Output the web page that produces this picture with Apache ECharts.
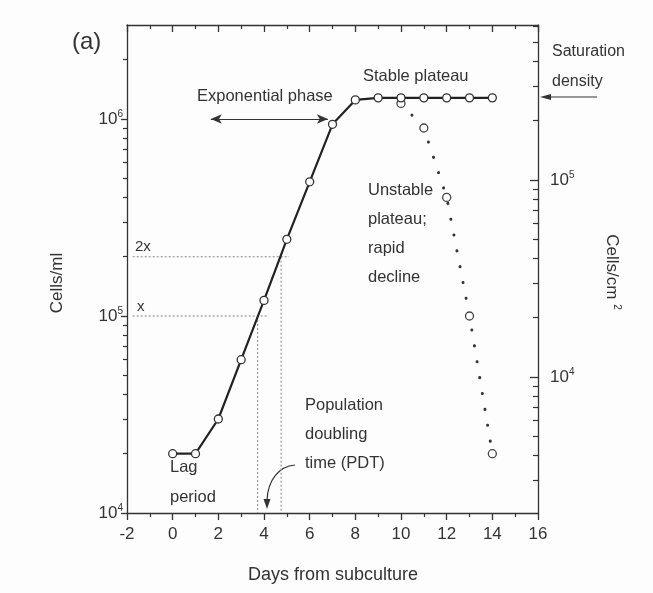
<!DOCTYPE html>
<html><head><meta charset="utf-8">
<script src="https://cdn.jsdelivr.net/npm/echarts@6/dist/echarts.min.js"></script>
<style>html,body{margin:0;padding:0;background:#fdfdfd}#c{width:653px;height:593px}</style>
</head><body><div id="c"></div>
<script>
// ---- data ----
const growthDays  = [0, 1, 2, 3, 4, 5, 6, 7, 8, 9, 10, 11, 12, 13, 14];
const growthCells = [2e4, 2e4, 3e4, 6e4, 1.2e5, 2.45e5, 4.8e5, 9.4e5, 1.25e6, 1.28e6, 1.28e6, 1.28e6, 1.28e6, 1.28e6, 1.28e6];
const declineDays  = [10, 11, 12, 13, 14];
const declineCells = [1.2e6, 9.0e5, 4.0e5, 1.0e5, 2.0e4];

// x axis
const xMin = -2, xMax = 16, xStep = 2;
// left axis (cells/ml)
const leftMin = 1e4, leftMax = 3e6;
const leftMajor = [1e4, 1e5, 1e6];
const leftMajorExp = ['4', '5', '6'];
const leftMinor = [2e4,3e4,4e4,5e4,6e4,7e4,8e4,9e4,2e5,3e5,4e5,5e5,6e5,7e5,8e5,9e5,2e6];
// right axis (cells/cm2) = cells/ml / mlPerCm2
const mlPerCm2 = 4.9;
const rightMajor = [1e4, 1e5];
const rightMajorExp = ['4', '5'];
const rightMinor = [3e3,4e3,5e3,6e3,7e3,8e3,9e3,2e4,3e4,4e4,5e4,6e4,7e4,8e4,9e4,2e5,3e5,4e5,5e5,6e5];

// doubling-time guides
const twoXLevel = 2e5, oneXLevel = 1e5;
const guideStartDay = -1.75;
const twoXEndDay = 5.1, oneXEndDay = 4.15;
const twoXDay = 4.75, oneXDay = 3.72;
// exponential phase arrow
const expArrowDays = [1.67, 6.8];
const expArrowLevel = 1e6;

const FONT = 'Liberation Sans';
const TXT = '#333';

function pairs(xs, ys){ return xs.map((x,i)=>[x, ys[i]]); }
function supLabel(vals, exps){
  return function(v){
    let idx = -1;
    vals.forEach((t,i)=>{ if (Math.abs(t - v)/t < 1e-6) idx = i; });
    return idx < 0 ? '' : '{b|10}{s|' + exps[idx] + '}';
  };
}
const supRich = {
  b: {fontFamily: FONT, fontSize: 17, color: TXT},
  s: {fontFamily: FONT, fontSize: 10, color: TXT, padding: [0, 0, 10, 0]}
};

const chart = echarts.init(document.getElementById('c'), null, {renderer: 'canvas'});
const axisLine = {show: true, onZero: false, lineStyle: {color: '#333', width: 1.3}};
const noLine = {show: false, onZero: false};

const option = {
  backgroundColor: '#fdfdfd',
  animation: false,
  grid: {left: 127, top: 25, right: 115, bottom: 80, containLabel: false},
  xAxis: [
    {type: 'value', min: xMin, max: xMax, interval: xStep, position: 'bottom',
     axisLine: axisLine, splitLine: {show: false},
     axisTick: {show: true, length: 7, lineStyle: {color: '#333', width: 1.3}},
     minorTick: {show: true, splitNumber: 2, length: 4, lineStyle: {color: '#333', width: 1.2}},
     axisLabel: {fontFamily: FONT, fontSize: 17, color: TXT, margin: 13}},
    {type: 'value', min: xMin, max: xMax, interval: xStep, position: 'top',
     axisLine: axisLine, splitLine: {show: false},
     axisTick: {show: true, inside: true, length: 7, lineStyle: {color: '#333', width: 1.3}},
     minorTick: {show: true, splitNumber: 2, length: 4, lineStyle: {color: '#333', width: 1.2}},
     axisLabel: {show: false}}
  ],
  yAxis: [
    {type: 'log', logBase: 10, min: leftMin, max: leftMax, position: 'left',
     axisLine: axisLine, splitLine: {show: false}, minorTick: {show: false},
     axisTick: {show: true, length: 6, customValues: leftMajor, lineStyle: {color: '#333', width: 1.3}},
     axisLabel: {customValues: leftMajor, formatter: supLabel(leftMajor, leftMajorExp), rich: supRich, margin: 4}},
    {type: 'log', logBase: 10, min: leftMin, max: leftMax, position: 'left',
     axisLine: noLine, splitLine: {show: false},
     axisTick: {show: true, length: 4, customValues: leftMinor, lineStyle: {color: '#333', width: 1.2}},
     axisLabel: {show: false}},
    {type: 'log', logBase: 10, min: leftMin / mlPerCm2, max: leftMax / mlPerCm2, position: 'right',
     axisLine: axisLine, splitLine: {show: false},
     axisTick: {show: true, inside: true, length: 8, customValues: rightMajor, lineStyle: {color: '#333', width: 1.3}},
     axisLabel: {customValues: rightMajor, formatter: supLabel(rightMajor, rightMajorExp), rich: supRich, margin: 12}},
    {type: 'log', logBase: 10, min: leftMin / mlPerCm2, max: leftMax / mlPerCm2, position: 'right',
     axisLine: noLine, splitLine: {show: false},
     axisTick: {show: true, inside: true, length: 5, customValues: rightMinor, lineStyle: {color: '#333', width: 1.2}},
     axisLabel: {show: false}}
  ],
  series: [
    {type: 'line', name: '2x', symbol: 'none', silent: true,
     data: [[guideStartDay, twoXLevel], [twoXEndDay, twoXLevel]],
     lineStyle: {color: '#999', width: 1.2, type: [2, 2]}, z: 1},
    {type: 'line', name: 'x', symbol: 'none', silent: true,
     data: [[guideStartDay, oneXLevel], [oneXEndDay, oneXLevel]],
     lineStyle: {color: '#999', width: 1.2, type: [2, 2]}, z: 1},
    {type: 'line', name: '2x-v', symbol: 'none', silent: true,
     data: [[twoXDay, twoXLevel], [twoXDay, leftMin]],
     lineStyle: {color: '#999', width: 1.2, type: [2, 2]}, z: 1},
    {type: 'line', name: 'x-v', symbol: 'none', silent: true,
     data: [[oneXDay, oneXLevel], [oneXDay, leftMin]],
     lineStyle: {color: '#999', width: 1.2, type: [2, 2]}, z: 1},
    {type: 'line', name: 'decline', symbol: 'circle', symbolSize: 8,
     data: pairs(declineDays, declineCells),
     lineStyle: {color: '#333', width: 3, type: [0.1, 16], cap: 'round'},
     itemStyle: {color: '#fff', borderColor: '#444', borderWidth: 1.3}, z: 3},
    {type: 'line', name: 'growth', symbol: 'circle', symbolSize: 8,
     data: pairs(growthDays, growthCells),
     lineStyle: {color: '#222', width: 2.2},
     itemStyle: {color: '#fff', borderColor: '#333', borderWidth: 1.3}, z: 4,
     markLine: {silent: true, symbol: ['arrow', 'arrow'], symbolSize: [7, 11], label: {show: false},
       lineStyle: {color: '#333', width: 1.2, type: 'solid'},
       data: [[{coord: [expArrowDays[0], expArrowLevel]}, {coord: [expArrowDays[1], expArrowLevel]}]]}}
  ],
  graphic: [
    {type: 'text', left: 72, top: 30, style: {text: '(a)', fontFamily: FONT, fontSize: 24, fill: TXT}},
    {type: 'text', left: 197, top: 88, style: {text: 'Exponential phase', fontFamily: FONT, fontSize: 16.5, fill: TXT}},
    {type: 'text', left: 363, top: 68, style: {text: 'Stable plateau', fontFamily: FONT, fontSize: 16.5, fill: TXT}},
    {type: 'text', left: 552, top: 37, style: {text: 'Saturation\ndensity', fontFamily: FONT, fontSize: 16, lineHeight: 30, fill: TXT}},
    {type: 'line', shape: {x1: 597, y1: 97, x2: 548, y2: 97}, style: {stroke: '#333', lineWidth: 1.2}},
    {type: 'polygon', shape: {points: [[540, 97], [551, 94], [551, 100]]}, style: {fill: '#333'}},
    {type: 'text', left: 368, top: 176, style: {text: 'Unstable\nplateau;\nrapid\ndecline', fontFamily: FONT, fontSize: 16.5, lineHeight: 29, fill: TXT}},
    {type: 'text', left: 170, top: 452, style: {text: 'Lag\nperiod', fontFamily: FONT, fontSize: 16.5, lineHeight: 30, fill: TXT}},
    {type: 'text', left: 305, top: 391, style: {text: 'Population\ndoubling\ntime (PDT)', fontFamily: FONT, fontSize: 16.5, lineHeight: 29, fill: TXT}},
    {type: 'text', left: 135, top: 239, style: {text: '2x', fontFamily: FONT, fontSize: 15, fill: TXT}},
    {type: 'text', left: 137, top: 299, style: {text: 'x', fontFamily: FONT, fontSize: 15, fill: TXT}},
    {type: 'bezierCurve', shape: {x1: 295, y1: 465, cpx1: 279, cpy1: 466, cpx2: 268, cpy2: 480, x2: 267, y2: 500},
     style: {stroke: '#333', lineWidth: 1.2, fill: null}},
    {type: 'polygon', shape: {points: [[267, 509], [263.5, 499], [270.5, 499]]}, style: {fill: '#333'}},
    {type: 'text', x: 57, y: 283, rotation: Math.PI / 2,
     style: {text: 'Cells/ml', fontFamily: FONT, fontSize: 17, fill: TXT, align: 'center', verticalAlign: 'middle'}},
    {type: 'text', x: 612, y: 272, rotation: -Math.PI / 2,
     style: {text: 'Cells/cm {s|2}', fontFamily: FONT, fontSize: 17, fill: TXT, align: 'center', verticalAlign: 'middle',
       rich: {s: {fontFamily: FONT, fontSize: 10, fill: TXT, padding: [0, 0, 10, 0]}}}},
    {type: 'text', x: 333, y: 575,
     style: {text: 'Days from subculture', fontFamily: FONT, fontSize: 18, fill: TXT, align: 'center', verticalAlign: 'middle'}}
  ]
};
chart.setOption(option);
</script>
</body></html>
